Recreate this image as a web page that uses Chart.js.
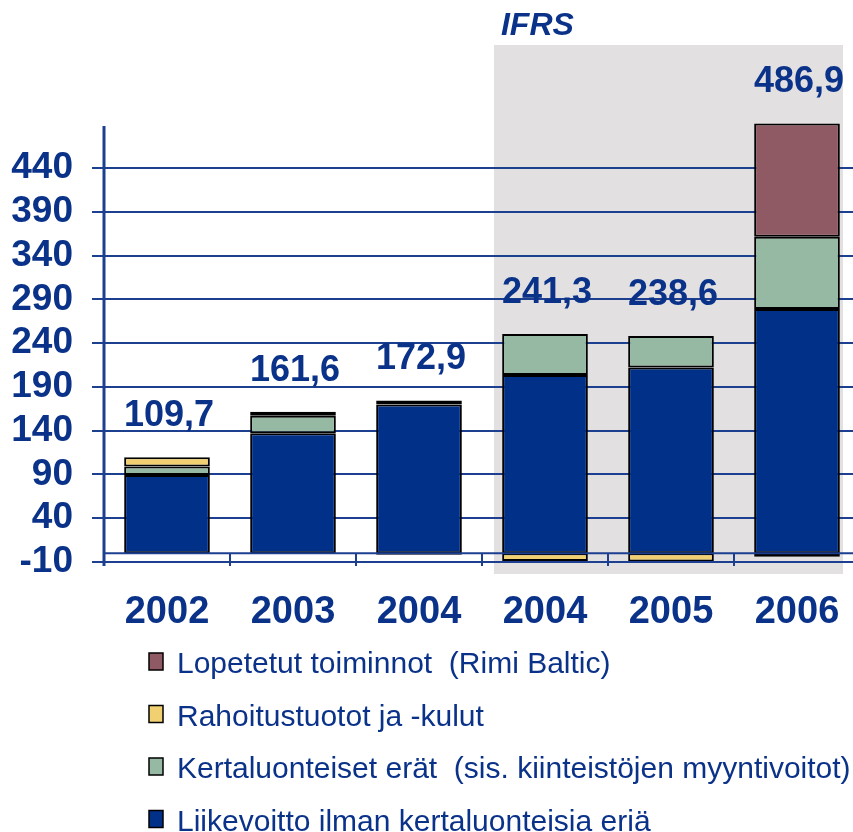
<!DOCTYPE html>
<html>
<head>
<meta charset="utf-8">
<script src="https://cdn.jsdelivr.net/npm/chart.js@4.4.0/dist/chart.umd.min.js"></script>
<style>
  html,body{margin:0;padding:0;overflow:hidden;background:#fff}
  #wrap{width:860px;height:832px}
</style>
</head>
<body>
<div id="wrap"><canvas id="c" width="860" height="832" style="width:860px;height:832px"></canvas></div>
<script>
// data
const years = ['2002','2003','2004','2004','2005','2006'];
const liikevoitto = [89.5, 137, 170, 203.6, 212.3, 279];
const kertaluonteiset = [9.5, 20, 4.5, 46.7, 35.8, 82.5];
const rahoitus = [10.7, 4.6, -1.6, -9, -9.5, -4];
const lopetetut = [null, null, null, null, null, 129.4];
const totals = [109.7, 161.6, 172.9, 241.3, 238.6, 486.9];
const yTicks = [-10, 40, 90, 140, 190, 240, 290, 340, 390, 440];
const legendLabels = [
  'Lopetetut toiminnot  (Rimi Baltic)',
  'Rahoitustuotot ja -kulut',
  'Kertaluonteiset erät  (sis. kiinteistöjen myyntivoitot)',
  'Liikevoitto ilman kertaluonteisia eriä'
];

const FONT = '"Liberation Sans", Arial, sans-serif';
const textBlue = '#0a3289';
const gridBlue = '#1c3f8f';
const cBlue = '#003087', cGreen = '#95b9a2', cYellow = '#f0d070', cMaroon = '#8f5a63';
const legendColors = [cMaroon, cYellow, cGreen, cBlue];

function line(ctx, x1, y1, x2, y2){
  ctx.beginPath(); ctx.moveTo(x1, y1); ctx.lineTo(x2, y2); ctx.stroke();
}

const deco = {
  id: 'deco',
  beforeDraw(chart){
    const {ctx, chartArea, scales:{x, y}} = chart;
    const w = x.getPixelForValue(1) - x.getPixelForValue(0);
    const left = x.getPixelForValue(3) - 0.405*w;
    const right = x.getPixelForValue(5) + 0.365*w;
    const top = chartArea.top - 81;
    const bottom = y.getPixelForValue(-10) + 12;
    ctx.save();
    ctx.fillStyle = '#e2e0e1';
    ctx.fillRect(left, top, right-left, bottom-top);
    ctx.fillStyle = textBlue;
    ctx.font = 'italic bold 32px ' + FONT;
    ctx.textAlign = 'left'; ctx.textBaseline = 'alphabetic';
    ctx.fillText('IFRS', left + 7, top - 10);
    ctx.restore();
  },
  afterDatasetsDraw(chart){
    const {ctx, chartArea, scales:{x, y}} = chart;
    const w = x.getPixelForValue(1) - x.getPixelForValue(0);
    const y0 = y.getPixelForValue(0), ym = y.getPixelForValue(-10);
    ctx.save();
    ctx.strokeStyle = gridBlue; ctx.lineWidth = 2;
    line(ctx, chartArea.left, y0, chartArea.right, y0);
    line(ctx, chartArea.left - 12, ym, chartArea.right, ym);
    for(let k = 1; k < years.length; k++){
      const xb = x.getPixelForValue(k) - w/2;
      line(ctx, xb, y0, xb, ym + 4);
    }
    ctx.lineWidth = 3;
    line(ctx, chartArea.left, chartArea.top, chartArea.left, ym + 4);
    ctx.restore();
  },
  afterDraw(chart){
    const {ctx, scales:{x, y}} = chart;
    ctx.save();
    // totals above the bars
    ctx.fillStyle = textBlue;
    ctx.font = 'bold 36px ' + FONT;
    ctx.textAlign = 'center'; ctx.textBaseline = 'alphabetic';
    totals.forEach((t, i) => {
      const pos = [liikevoitto[i], kertaluonteiset[i], rahoitus[i], lopetetut[i]]
        .filter(v => v > 0).reduce((a, b) => a + b, 0);
      ctx.fillText(t.toFixed(1).replace('.', ','), x.getPixelForValue(i) + 2, y.getPixelForValue(pos) - 31);
    });
    // legend, one item per row
    ctx.font = '30px ' + FONT;
    ctx.textAlign = 'left';
    legendLabels.forEach((lab, i) => {
      const base = 673 + i*52.5;
      ctx.fillStyle = legendColors[i];
      ctx.fillRect(149, base - 20, 14, 17);
      ctx.strokeStyle = '#000'; ctx.lineWidth = 1.5;
      ctx.strokeRect(149, base - 20, 14, 17);
      ctx.fillStyle = textBlue;
      ctx.fillText(lab, 177, base, 676);
    });
    ctx.restore();
  }
};

const barStyle = { borderColor:'#000', borderWidth:2, borderSkipped:false, barPercentage:0.68, categoryPercentage:1, clip:false };

new Chart(document.getElementById('c'), {
  type: 'bar',
  data: {
    labels: years,
    datasets: [
      Object.assign({ label: legendLabels[3], data: liikevoitto, backgroundColor: cBlue }, barStyle),
      Object.assign({ label: legendLabels[2], data: kertaluonteiset, backgroundColor: cGreen }, barStyle),
      Object.assign({ label: legendLabels[1], data: rahoitus, backgroundColor: cYellow }, barStyle),
      Object.assign({ label: legendLabels[0], data: lopetetut, backgroundColor: cMaroon }, barStyle)
    ]
  },
  options: {
    responsive: false,
    animation: false,
    devicePixelRatio: 1,
    layout: { padding: { top: 126, left: 0, right: 0, bottom: 200 } },
    plugins: { legend: { display: false }, tooltip: { enabled: false } },
    scales: {
      x: {
        stacked: true,
        afterFit: s => { s.height = 70; },
        grid: { display: false },
        border: { display: false },
        ticks: { color: textBlue, font: { family: FONT, size: 38, weight: 'bold' }, padding: 20 }
      },
      y: {
        stacked: true,
        min: -10, max: 488,
        afterBuildTicks: s => { s.ticks = yTicks.map(v => ({ value: v })); },
        afterFit: s => { s.width = 104; },
        grid: { color: gridBlue, lineWidth: 2, tickLength: 12 },
        border: { display: false },
        ticks: { color: textBlue, font: { family: FONT, size: 37, weight: 'bold' }, padding: 19 }
      }
    }
  },
  plugins: [deco]
});
</script>
</body>
</html>
